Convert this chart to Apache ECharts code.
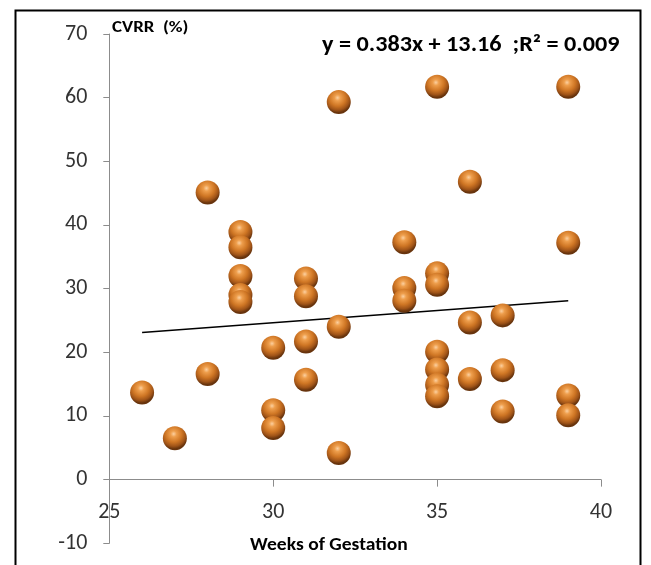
<!DOCTYPE html>
<html>
<head>
<meta charset="utf-8">
<script src="https://cdn.jsdelivr.net/npm/echarts@6/dist/echarts.min.js"></script>
<style>
html,body{margin:0;padding:0;background:#fff;}
#chart{width:651px;height:565px;}
</style>
</head>
<body>
<div id="chart"></div>
<script>
// Weeks of gestation (x) and CVRR % (y) for each subject
const weeks = [26, 27, 28, 28, 29, 29, 29, 29, 29, 30, 30, 30, 31, 31, 31, 31, 32, 32, 32, 34, 34, 34, 35, 35, 35, 35, 35, 35, 35, 36, 36, 36, 37, 37, 37, 39, 39, 39, 39];
const cvrr  = [13.7, 6.5, 45.1, 16.6, 38.9, 36.5, 32.0, 29.0, 27.9, 20.7, 10.9, 8.1, 31.6, 28.8, 21.7, 15.7, 59.3, 24.0, 4.2, 37.3, 30.1, 28.1, 61.7, 32.4, 30.6, 20.1, 17.3, 14.9, 13.1, 46.8, 24.7, 15.8, 25.8, 17.2, 10.7, 61.7, 37.2, 13.2, 10.1];
const trendSlope = 0.383;
const trendIntercept = 13.16;
const trendRange = [26, 39];
const xTicks = [25, 30, 35, 40];
const yTicks = [-10, 0, 10, 20, 30, 40, 50, 60, 70];
const equationText = 'y = 0.383x + 13.16  ;R\u00B2 = 0.009';
const yTitle = 'CVRR  (%)';
const xTitle = 'Weeks of Gestation';

const points = weeks.map((w, i) => [w, cvrr[i]]);
const trend = trendRange.map(x => [x, trendSlope * x + trendIntercept]);

const chart = echarts.init(document.getElementById('chart'));
const font = 'Carlito, Lato, "Open Sans", sans-serif';
const sphere = {
  type: 'radial', x: 0.45, y: 0.32, r: 0.62,
  colorStops: [
    {offset: 0, color: '#fcd0a0'},
    {offset: 0.2, color: '#ee9e4c'},
    {offset: 0.55, color: '#cf7624'},
    {offset: 0.82, color: '#a05418'},
    {offset: 1, color: '#68340d'}
  ]
};
const gridTop = 34, gridBottom = 21.7;
const plotH = 565 - gridTop - gridBottom;
const zeroOffset = -plotH * (0 - yTicks[0]) / (yTicks[yTicks.length - 1] - yTicks[0]);
chart.setOption({
  animation: false,
  backgroundColor: '#fff',
  grid: {left: 109.3, right: 50, top: gridTop, bottom: gridBottom, containLabel: false, outerBoundsMode: 'none'},
  xAxis: {
    type: 'value', min: xTicks[0], max: xTicks[xTicks.length - 1], interval: 5,
    position: 'bottom', offset: zeroOffset,
    axisLine: {onZero: false, lineStyle: {color: '#8c8c8c', width: 1}},
    axisTick: {show: true, length: 7, lineStyle: {color: '#8c8c8c'}},
    axisLabel: {fontFamily: font, fontSize: 22, color: '#333', margin: 22},
    splitLine: {show: false}
  },
  yAxis: {
    type: 'value', min: yTicks[0], max: yTicks[yTicks.length - 1], interval: 10,
    axisLine: {show: true, onZero: false, lineStyle: {color: '#8c8c8c', width: 1}},
    axisTick: {show: true, length: 6, lineStyle: {color: '#8c8c8c'}},
    axisLabel: {fontFamily: font, fontSize: 22, color: '#333', margin: 22},
    splitLine: {show: false}
  },
  series: [
    {
      type: 'line', data: trend, symbol: 'none', z: 1,
      lineStyle: {color: '#000', width: 1.5}
    },
    {
      type: 'scatter', data: points, symbol: 'circle', symbolSize: 24, z: 3,
      itemStyle: {color: sphere, opacity: 1}
    }
  ],
  graphic: [
    {type: 'rect', left: 13, top: 8, shape: {width: 625, height: 600},
     style: {fill: 'none', stroke: '#000', lineWidth: 2}, silent: true},
    {type: 'text', left: 112, top: 20, scaleX: 1.18,
     style: {text: yTitle, font: 'bold 16px ' + font, fill: '#000'}},
    {type: 'text', left: 322, top: 34, scaleX: 1.1,
     style: {text: equationText, font: 'bold 22px ' + font, fill: '#000'}},
    {type: 'text', left: 250, top: 537, scaleX: 1.15,
     style: {text: xTitle, font: 'bold 17px ' + font, fill: '#000'}}
  ]
});
</script>
</body>
</html>
